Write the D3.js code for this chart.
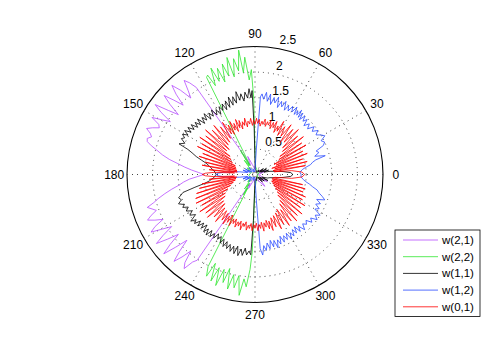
<!DOCTYPE html>
<html>
<head>
<meta charset="utf-8">
<script src="https://cdn.jsdelivr.net/npm/d3@7"></script>
<style>
  html, body { margin: 0; padding: 0; background: #fff; }
  svg { display: block; font-family: "Liberation Sans", Arial, Helvetica, sans-serif; }
</style>
</head>
<body>
<div id="chart"></div>
<script>
// [angle in degrees, radius], in drawing order
const w21 = [
  [0, 0.05], [10, 0.12], [20, 0.22], [25, 0.1], [35, 0.15], [50, 0.06], [70, 0.08], [90, 0.1],
  [105, 0.2], [112, 0.38], [116, 0.2], [120, 0.45],
  [124, 2.05], [125.5, 2.2], [127, 2.3], [128.5, 2.1], [130, 1.95], [131.5, 2.2], [133, 2.38],
  [134.5, 2.2], [136, 1.95], [137.5, 2.15], [139, 2.35], [140.5, 2.15], [142, 1.9],
  [143.5, 2.1], [145, 2.38], [146.5, 2.2], [148, 1.95], [149.5, 2.1], [151, 2.3],
  [152.5, 2.12], [154, 2.08], [155.5, 2.2], [157, 2.3], [158.5, 2.2], [160, 2.15],
  [161.5, 2.22], [163, 2.2], [164.5, 2.1], [166, 1.98], [168, 1.85], [170, 1.7], [172, 1.52],
  [174, 1.38], [176, 1.24], [178, 1.1], [180, 1.0], [182, 1.12], [184, 1.28], [186, 1.4],
  [188, 1.5], [190, 1.65], [192, 1.8], [194, 1.95], [195.5, 2.05], [197, 2.2], [198.5, 2.12],
  [200, 2.05], [201.5, 2.18], [203, 2.28], [204.5, 2.15], [206, 2.0], [207.5, 2.2],
  [209, 2.32], [210.5, 2.1], [212, 1.92], [213.5, 2.15], [215, 2.35], [216.5, 2.12],
  [218, 1.9], [219.5, 2.15], [221, 2.36], [222.5, 2.1], [224, 1.85], [225.5, 2.1],
  [227, 2.32], [228.5, 2.15], [230, 1.95], [231.5, 2.2], [233, 2.3], [234.5, 2.1],
  [236, 2.02],
  [238, 0.45], [242, 0.2], [245, 0.3], [260, 0.1], [280, 0.08], [300, 0.15], [310, 0.3],
  [320, 0.12], [330, 0.28], [340, 0.15], [350, 0.1], [360, 0.05]
];

const w22 = [
  [0, 0.05], [20, 0.08], [45, 0.06], [70, 0.1], [85, 0.15], [89, 0.3],
  [91, 1.5], [92, 2.05], [93.5, 1.85], [95, 2.3], [96.5, 2.0], [97.5, 2.45], [99, 2.05],
  [100.5, 2.3], [102, 1.95], [103.5, 2.35], [105, 2.0], [106.5, 2.25], [108, 1.9],
  [109.5, 2.2], [111, 1.95], [112.5, 2.25], [114, 1.9], [115.5, 2.15], [116.5, 2.12],
  [117, 0.5], [119, 0.2], [121, 0.55], [124, 0.2], [127, 0.35], [132, 0.12], [140, 0.2],
  [150, 0.08], [170, 0.1], [190, 0.12], [215, 0.1], [225, 0.2], [230, 0.15], [234, 0.35],
  [237, 0.2], [240, 0.45], [242, 0.3],
  [243, 2.02], [244.5, 2.2], [246, 1.9], [247.5, 2.25], [249, 1.95], [250.5, 2.3],
  [252, 1.95], [253.5, 2.2], [255, 1.9], [256.5, 2.3], [258, 2.0], [259.5, 2.25],
  [261, 2.0], [262.5, 2.38], [264, 2.05], [265.5, 2.2], [267, 1.86], [268, 1.5],
  [269.5, 0.3], [285, 0.1], [300, 0.08], [330, 0.06], [360, 0.05]
];

const w11 = [
  [0, 0.74], [3, 0.7], [6, 0.55], [9, 0.4], [12, 0.3], [15, 0.18], [18, 0.28], [22, 0.12],
  [26, 0.25], [30, 0.1], [35, 0.2], [40, 0.08], [50, 0.12], [60, 0.05], [75, 0.08], [88, 0.1],
  [91, 0.9], [92, 1.64], [93, 1.5], [94, 1.68], [95.5, 1.5], [97, 1.62], [98.5, 1.45],
  [100, 1.6], [101.5, 1.48], [103, 1.66], [104.5, 1.44], [106, 1.58], [107.5, 1.42],
  [109, 1.6], [110.5, 1.4], [112, 1.55], [113.5, 1.38], [115, 1.52], [116.5, 1.4],
  [118, 1.5], [119.5, 1.35], [121, 1.48], [122.5, 1.38], [124, 1.52], [125.5, 1.4],
  [127, 1.5], [128.5, 1.38], [130, 1.55], [131.5, 1.42], [133, 1.52], [134.5, 1.4],
  [136, 1.56], [137.5, 1.44], [139, 1.55], [140.5, 1.45], [142, 1.58], [143.5, 1.48],
  [145, 1.6], [146.5, 1.5], [148, 1.62], [149.5, 1.52], [151, 1.62], [152.5, 1.55],
  [154, 1.6], [156, 1.5], [158, 1.6], [159.5, 1.4], [161, 1.3], [163, 1.2], [165, 1.08],
  [167, 0.98], [169, 0.92], [171, 0.88], [173, 0.84], [175, 0.8], [177, 0.78], [180, 0.76],
  [182, 0.78], [184, 0.8], [186, 0.85], [188, 0.9], [190, 1.0], [192, 1.2], [194, 1.45],
  [195.5, 1.5], [197, 1.56], [199, 1.52], [201, 1.6], [203, 1.5], [204.5, 1.55],
  [206, 1.45], [208, 1.52], [210, 1.42], [212, 1.5], [214, 1.4], [216, 1.55], [217.5, 1.45],
  [219, 1.52], [220.5, 1.4], [222, 1.5], [223.5, 1.38], [225, 1.48], [226.5, 1.36],
  [228, 1.5], [229.5, 1.4], [231, 1.52], [232.5, 1.38], [234, 1.5], [235.5, 1.4],
  [237, 1.48], [238.5, 1.36], [240, 1.46], [241.5, 1.38], [243, 1.5], [244.5, 1.4],
  [246, 1.54], [247.5, 1.42], [249, 1.55], [250.5, 1.45], [252, 1.58], [253.5, 1.46],
  [255, 1.6], [256.5, 1.44], [258, 1.62], [259.5, 1.48], [261, 1.6], [262.5, 1.45],
  [264, 1.58], [265.5, 1.5], [267, 1.57], [268, 0.9],
  [270, 0.1], [285, 0.12], [300, 0.06], [315, 0.2], [320, 0.08], [325, 0.22], [330, 0.1],
  [335, 0.28], [340, 0.15], [344, 0.25], [348, 0.3], [351, 0.4], [354, 0.55], [357, 0.7],
  [360, 0.74]
];

const w12 = [
  [0, 0.9], [3, 0.88], [6, 0.93], [8, 1.0], [10, 1.1], [12, 1.15], [13.5, 1.22],
  [15, 1.42], [17, 1.22], [19, 1.32], [21, 1.28], [23, 1.45], [25, 1.5], [27, 1.45],
  [29, 1.56], [31, 1.5], [33, 1.42], [35, 1.5], [37, 1.4], [39, 1.48], [41, 1.36],
  [43, 1.45], [45, 1.35], [46.5, 1.48], [48, 1.4], [49.5, 1.5], [51, 1.38], [52, 1.52],
  [53, 1.4], [54, 1.55], [55, 1.42], [56, 1.5], [57, 1.4], [58, 1.55], [59.5, 1.42],
  [61, 1.52], [62.5, 1.4], [64, 1.5], [65.5, 1.38], [67, 1.55], [68.5, 1.42], [70, 1.52],
  [71.5, 1.38], [73, 1.58], [74.5, 1.45], [76, 1.55], [77.5, 1.4], [79, 1.6], [80.5, 1.45],
  [82, 1.62], [83.5, 1.48], [85, 1.58], [86, 1.52], [87, 0.5], [89, 0.1],
  [100, 0.05], [110, 0.12], [120, 0.06], [130, 0.18], [140, 0.08], [150, 0.22], [155, 0.1],
  [160, 0.25], [165, 0.15], [170, 0.3], [173, 0.45], [176, 0.62], [178, 0.72], [180, 0.76],
  [182, 0.72], [184, 0.62], [187, 0.45], [190, 0.3], [195, 0.15], [200, 0.25], [205, 0.1],
  [210, 0.22], [220, 0.08], [230, 0.18], [240, 0.06], [250, 0.12], [260, 0.05], [271, 0.1],
  [273, 0.5], [274, 1.45], [275.5, 1.58], [277, 1.4], [278.5, 1.5], [280, 1.36],
  [281.5, 1.48], [283, 1.32], [284.5, 1.46], [286, 1.34], [287.5, 1.5], [289, 1.35],
  [290.5, 1.45], [292, 1.3], [293.5, 1.44], [295, 1.32], [296.5, 1.42], [298, 1.3],
  [299.5, 1.45], [301, 1.33], [302.5, 1.42], [304, 1.3], [305.5, 1.4], [307, 1.28],
  [308.5, 1.42], [310, 1.32], [312, 1.45], [314, 1.34], [316, 1.4], [318, 1.34], [320, 1.45],
  [322, 1.38], [324, 1.5], [326, 1.42], [328, 1.5], [330, 1.35], [332, 1.42], [334, 1.32],
  [336, 1.4], [338, 1.3], [340, 1.45], [342, 1.38], [344, 1.3], [346, 1.25], [348, 1.15],
  [350, 1.08], [352, 1.0], [354, 0.95], [357, 0.9], [360, 0.9]
];

const w01 = [
  [0, 0.97], [3, 0.92], [6, 0.72], [8, 0.38], [10, 1.0], [12, 0.36], [14, 1.05], [16, 0.4],
  [18, 0.98], [20, 0.35], [22, 1.1], [24, 0.45], [26, 1.04], [28, 0.42], [30, 1.15],
  [32, 0.55], [34, 1.1], [36, 0.6], [38, 1.2], [40, 0.7], [42, 1.12], [44, 0.75], [46, 1.22],
  [48, 0.85], [50, 1.15], [52, 0.8], [54, 1.2], [56, 0.9], [58, 1.1], [60, 0.88],
  [61.5, 1.18], [63, 0.95], [64.5, 1.05], [66, 0.9], [67.5, 1.12], [69, 0.98], [70.5, 1.08],
  [72, 0.94], [73.5, 1.1], [75, 1.0], [76.5, 1.06], [78, 0.96], [79.5, 1.1], [81, 0.99],
  [82.5, 1.05], [84, 0.95], [85.5, 1.08], [87, 1.0], [88.5, 1.1], [90, 0.98], [91.5, 1.06],
  [93, 0.96], [94.5, 1.1], [96, 1.0], [97.5, 1.05], [99, 0.94], [100.5, 1.12], [102, 0.98],
  [103.5, 1.06], [105, 0.92], [106.5, 1.1], [108, 0.96], [109.5, 1.14], [111, 0.9],
  [112.5, 1.08], [114, 0.95], [115.5, 1.15], [117, 0.88], [118.5, 1.1], [120, 0.92],
  [122, 1.2], [124, 0.85], [126, 1.15], [128, 0.8], [130, 1.25], [132, 0.78], [134, 1.2],
  [136, 0.7], [138, 1.3], [140, 0.72], [142, 1.22], [144, 0.6], [146, 1.3], [148, 0.55],
  [150, 1.2], [152, 0.5], [154, 1.25], [156, 0.42], [158, 1.1], [160, 0.4], [162, 1.15],
  [164, 0.38], [166, 1.0], [168, 0.36], [170, 1.05], [172, 0.35], [174, 0.9], [175.5, 0.4],
  [177, 0.8], [178.5, 0.97], [180, 1.03],
  [181.5, 0.97], [183, 0.8], [184.5, 0.4], [186, 0.9], [188, 0.36], [190, 1.05], [192, 0.38],
  [194, 1.12], [196, 0.4], [198, 1.2], [200, 0.45], [202, 1.25], [204, 0.52], [206, 1.28],
  [208, 0.6], [210, 1.2], [212, 0.68], [214, 1.3], [216, 0.72], [218, 1.22], [220, 0.8],
  [222, 1.25], [224, 0.82], [226, 1.15], [228, 0.88], [230, 1.2], [232, 0.9], [234, 1.1],
  [235.5, 0.92], [237, 1.15], [238.5, 0.95], [240, 1.08], [241.5, 0.9], [243, 1.12],
  [244.5, 0.96], [246, 1.05], [247.5, 0.94], [249, 1.1], [250.5, 0.98], [252, 1.06],
  [253.5, 0.95], [255, 1.12], [256.5, 0.98], [258, 1.04], [259.5, 0.94], [261, 1.1],
  [262.5, 1.0], [264, 1.06], [265.5, 0.96], [267, 1.1], [268.5, 0.98], [270, 1.05],
  [271.5, 0.95], [273, 1.1], [274.5, 0.98], [276, 1.06], [277.5, 0.94], [279, 1.12],
  [280.5, 0.96], [282, 1.05], [283.5, 0.92], [285, 1.1], [286.5, 0.95], [288, 1.15],
  [290, 0.9], [292, 1.1], [294, 0.88], [296, 1.18], [298, 0.85], [300, 1.12], [302, 0.8],
  [304, 1.2], [306, 0.85], [308, 1.15], [310, 0.75], [312, 1.22], [314, 0.7], [316, 1.15],
  [318, 0.6], [320, 1.2], [322, 0.55], [324, 1.1], [326, 0.48], [328, 1.15], [330, 0.42],
  [332, 1.05], [334, 0.38], [336, 1.08], [338, 0.35], [340, 1.0], [342, 0.36], [344, 1.02],
  [346, 0.34], [348, 0.95], [350, 0.36], [352, 0.4], [354, 0.72], [357, 0.92], [360, 0.97]
];

const seriesNames = ["w(2,1)", "w(2,2)", "w(1,1)", "w(1,2)", "w(0,1)"];
const seriesData = [w21, w22, w11, w12, w01];
const seriesColors = ["#b64cff", "#2ee62e", "#000000", "#2a4bff", "#ff0000"];

const radialTicks = [0.5, 1, 1.5, 2, 2.5];
const angleTicks = [0, 30, 60, 90, 120, 150, 180, 210, 240, 270, 300, 330];

const width = 491;
const height = 363;
const cx = 255;
const cy = 174.5;
const rMax = 2.5;

const r = d3.scaleLinear().domain([0, rMax]).range([0, 128]);
// math angle (ccw from east, degrees) -> d3 radial angle (cw from north, radians)
const a = d3.scaleLinear().domain([0, 360]).range([Math.PI / 2, Math.PI / 2 - 2 * Math.PI]);

const svg = d3.select("#chart")
  .append("svg")
  .attr("width", width)
  .attr("height", height)
  .attr("viewBox", `0 0 ${width} ${height}`);

const plot = svg.append("g").attr("transform", `translate(${cx},${cy})`);

// outer circle
plot.append("circle")
  .attr("r", r(rMax))
  .attr("fill", "#fff")
  .attr("stroke", "#000")
  .attr("stroke-width", 1.1);

// dotted rings
plot.selectAll("circle.ring")
  .data(radialTicks.filter((t) => t < rMax))
  .enter()
  .append("circle")
  .attr("class", "ring")
  .attr("r", (t) => r(t))
  .attr("fill", "none")
  .attr("stroke", "#444")
  .attr("stroke-width", 1)
  .attr("stroke-dasharray", "1,4");

// dotted spokes
plot.selectAll("line.spoke")
  .data(angleTicks.filter((t) => t < 180))
  .enter()
  .append("line")
  .attr("class", "spoke")
  .attr("x1", (t) => -r(rMax) * Math.sin(a(t)))
  .attr("y1", (t) => r(rMax) * Math.cos(a(t)))
  .attr("x2", (t) => r(rMax) * Math.sin(a(t)))
  .attr("y2", (t) => -r(rMax) * Math.cos(a(t)))
  .attr("stroke", "#444")
  .attr("stroke-width", 1)
  .attr("stroke-dasharray", "1,4");

// angle labels
plot.selectAll("text.angle")
  .data(angleTicks)
  .enter()
  .append("text")
  .attr("class", "angle")
  .attr("x", (t) => r(rMax * 1.1) * Math.sin(a(t)))
  .attr("y", (t) => -r(rMax * 1.1) * Math.cos(a(t)))
  .attr("text-anchor", "middle")
  .attr("dominant-baseline", "central")
  .attr("font-size", 12)
  .attr("fill", "#000")
  .text((t) => t);

// radius labels along 82 degrees
plot.selectAll("text.rlab")
  .data(radialTicks)
  .enter()
  .append("text")
  .attr("class", "rlab")
  .attr("x", (t) => r(t + 0.025) * Math.sin(a(82)) + 6.5)
  .attr("y", (t) => -r(t + 0.025) * Math.cos(a(82)) - 2)
  .attr("font-size", 12)
  .attr("fill", "#000")
  .text((t) => t);

const line = d3.lineRadial()
  .angle((d) => a(d[0]))
  .radius((d) => r(d[1]));

plot.selectAll("path.series")
  .data(seriesData)
  .enter()
  .append("path")
  .attr("class", "series")
  .attr("d", (d) => line(d))
  .attr("fill", "none")
  .attr("stroke", (d, i) => seriesColors[i])
  .attr("stroke-width", 0.8)
  .attr("stroke-linejoin", "miter");

// legend
const legend = svg.append("g").attr("transform", "translate(395,230)");
const rowH = 16.7;

legend.append("rect")
  .attr("width", 85)
  .attr("height", 86.5)
  .attr("fill", "#fff")
  .attr("stroke", "#000")
  .attr("stroke-width", 0.8);

const rows = legend.selectAll("g.row")
  .data(seriesNames)
  .enter()
  .append("g")
  .attr("class", "row")
  .attr("transform", (d, i) => `translate(0,${10 + i * rowH})`);

rows.append("line")
  .attr("x1", 8)
  .attr("x2", 43)
  .attr("stroke", (d, i) => seriesColors[i])
  .attr("stroke-width", 0.8);

rows.append("text")
  .attr("x", 47)
  .attr("dominant-baseline", "central")
  .attr("font-size", 11.5)
  .attr("fill", "#000")
  .text((d) => d);
</script>
</body>
</html>
